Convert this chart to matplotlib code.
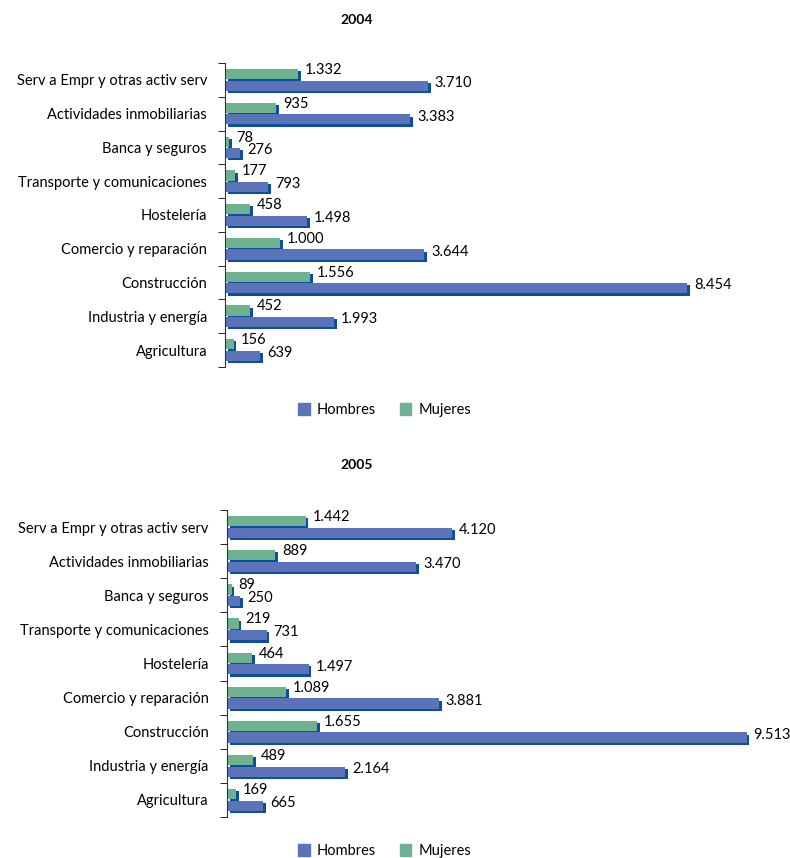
import numpy as np
import matplotlib.pyplot as plt
import matplotlib.patheffects as pe
from matplotlib.patches import Patch

plt.rcParams['font.family'] = ['Lato', 'DejaVu Sans']

sectores = ["Agricultura", "Industria y energía", "Construcción",
            "Comercio y reparación", "Hostelería", "Transporte y comunicaciones",
            "Banca y seguros", "Actividades inmobiliarias", "Serv a Empr y otras activ serv"]

hombres_2004 = [639, 1993, 8454, 3644, 1498, 793, 276, 3383, 3710]
mujeres_2004 = [156, 452, 1556, 1000, 458, 177, 78, 935, 1332]
hombres_2005 = [665, 2164, 9513, 3881, 1497, 731, 250, 3470, 4120]
mujeres_2005 = [169, 489, 1655, 1089, 464, 219, 89, 889, 1442]

c_hom = "#5b74b9"
c_muj = "#6fb28f"
c_sombra = "#0b4f9e"


def fmt(v):
    return f"{v:,}".replace(",", ".")


def panel(ax, hom, muj):
    y = np.arange(len(sectores))
    h = 0.3
    sombra = [pe.SimplePatchShadow(offset=(2, -1.6), shadow_rgbFace=c_sombra, alpha=1), pe.Normal()]
    bm = ax.barh(y + 0.17, muj, height=h, color=c_muj)
    bh = ax.barh(y - 0.17, hom, height=h, color=c_hom)
    for b in list(bm) + list(bh):
        b.set_path_effects(sombra)
    for yi, v in zip(y, muj):
        ax.annotate(fmt(v), (v, yi + 0.17), xytext=(5, 3), textcoords="offset points",
                    va="center", ha="left", fontsize=10.5)
    for yi, v in zip(y, hom):
        ax.annotate(fmt(v), (v, yi - 0.17), xytext=(5, 2), textcoords="offset points",
                    va="center", ha="left", fontsize=10.5)
    ax.set_xlim(0, 10120)
    ax.set_ylim(-0.5, len(sectores) - 0.5)
    ax.set_yticks(y)
    ax.set_yticklabels(sectores, fontsize=10.5)
    ax.set_yticks(np.arange(len(sectores) + 1) - 0.5, minor=True)
    ax.tick_params(axis="y", which="major", length=0, pad=13)
    ax.tick_params(axis="y", which="minor", length=5, direction="out")
    ax.set_xticks([])
    for s in ["top", "right", "bottom"]:
        ax.spines[s].set_visible(False)
    ax.spines["left"].set_color("#333333")


fig = plt.figure(figsize=(7.9, 8.58), dpi=100)
ax1 = fig.add_axes([0.285, 0.5723, 0.70, 0.3543])
ax2 = fig.add_axes([0.287, 0.0478, 0.70, 0.3578])

panel(ax1, hombres_2004, mujeres_2004)
panel(ax2, hombres_2005, mujeres_2005)

fig.text(0.451, 1 - 20 / 858, "2004", ha="center", va="center", fontsize=10, fontweight="bold")
fig.text(0.451, 1 - 465 / 858, "2005", ha="center", va="center", fontsize=10, fontweight="bold")

handles = [Patch(color=c_hom), Patch(color=c_muj)]
for yy in [410, 851]:
    fig.legend(handles, ["Hombres", "Mujeres"], loc="center", bbox_to_anchor=(0.487, 1 - yy / 858),
               ncol=2, frameon=False, fontsize=10.5, handlelength=0.8, handleheight=0.8,
               columnspacing=1.6, handletextpad=0.5)

fig.savefig("out.png", dpi=100)
